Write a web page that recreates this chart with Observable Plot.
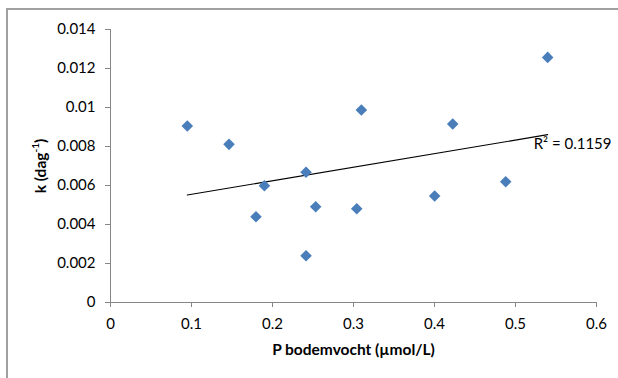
<!DOCTYPE html>
<html><head><meta charset="utf-8">
<script src="https://cdn.jsdelivr.net/npm/d3@7"></script>
<script src="https://cdn.jsdelivr.net/npm/@observablehq/plot@0.6"></script>
<style>
body{margin:0;background:#fff;}
#frame{position:absolute;left:6px;top:8px;width:700px;height:450px;border-left:2px solid #a0a0a0;border-top:2px solid #a0a0a0;}
#chart{position:absolute;left:0;top:0;}
</style></head><body>
<div id="frame"></div><div id="chart"></div>
<script>
const pValues = [0.0948, 0.1463, 0.1900, 0.1796, 0.2414, 0.2414, 0.2533, 0.3040, 0.3097, 0.4002, 0.4225, 0.4879, 0.5397];
const kValues = [0.00905, 0.00811, 0.00599, 0.00440, 0.00668, 0.00240, 0.00491, 0.00481, 0.00987, 0.00546, 0.00915, 0.00619, 0.01257];
const xTicks = [0, 0.1, 0.2, 0.3, 0.4, 0.5, 0.6];
const yTicks = [0, 0.002, 0.004, 0.006, 0.008, 0.01, 0.012, 0.014];
const xTitle = "P bodemvocht (µmol/L)";
const yTitleMain = "k (dag";
const yTitleSup = "-1";
const yTitleEnd = ")";
const r2Label = "R² = 0.1159";

const data = pValues.map((p, i) => ({p, k: kValues[i]}));
const fmt = d => String(+d.toFixed(3));

const plot = Plot.plot({
  width: 618, height: 378,
  marginLeft: 110, marginRight: 22, marginTop: 29, marginBottom: 76,
  style: {fontFamily: "Lato", fontSize: "15px", color: "#000", background: "transparent", overflow: "visible"},
  x: {domain: [0, 0.6]},
  y: {domain: [0, 0.014]},
  marks: [
    Plot.ruleY([0], {stroke: "#868686", strokeWidth: 1}),
    Plot.ruleX([0], {stroke: "#868686", strokeWidth: 1}),
    Plot.axisX({ticks: xTicks, tickFormat: fmt, tickSize: 5, tickPadding: 11, stroke: "#868686", fill: "#000", label: null, fontSize: 15}),
    Plot.axisY({ticks: yTicks, tickFormat: fmt, tickSize: 5, tickPadding: 10, stroke: "#868686", fill: "#000", label: null, fontSize: 15}),
    Plot.linearRegressionY(data, {x: "p", y: "k", stroke: "#000", strokeWidth: 1.2, ci: 0}),
    Plot.dot(data, {x: "p", y: "k", symbol: "diamond2", r: 5.2, fill: "#4a7ebb", stroke: null}),
    Plot.text([r2Label], {frameAnchor: "top-right", dx: 15, dy: 109, textAnchor: "end", fontSize: 15, fill: "#000"}),
    Plot.text([xTitle], {frameAnchor: "bottom", dy: 52, fontSize: 15.5, fontWeight: "bold", fill: "#000"})
  ]
});
document.getElementById("chart").appendChild(plot);

const svg = d3.select(plot);
const t = svg.append("text")
  .attr("transform", "translate(42,166) rotate(-90)")
  .attr("text-anchor", "middle")
  .attr("dominant-baseline", "middle")
  .attr("font-family", "Lato")
  .attr("font-size", 15.5)
  .attr("font-weight", "bold")
  .attr("fill", "#000");
t.append("tspan").text(yTitleMain);
t.append("tspan").attr("font-size", 10).attr("dy", -6).text(yTitleSup);
t.append("tspan").attr("dy", 6).text(yTitleEnd);
</script>
</body></html>
